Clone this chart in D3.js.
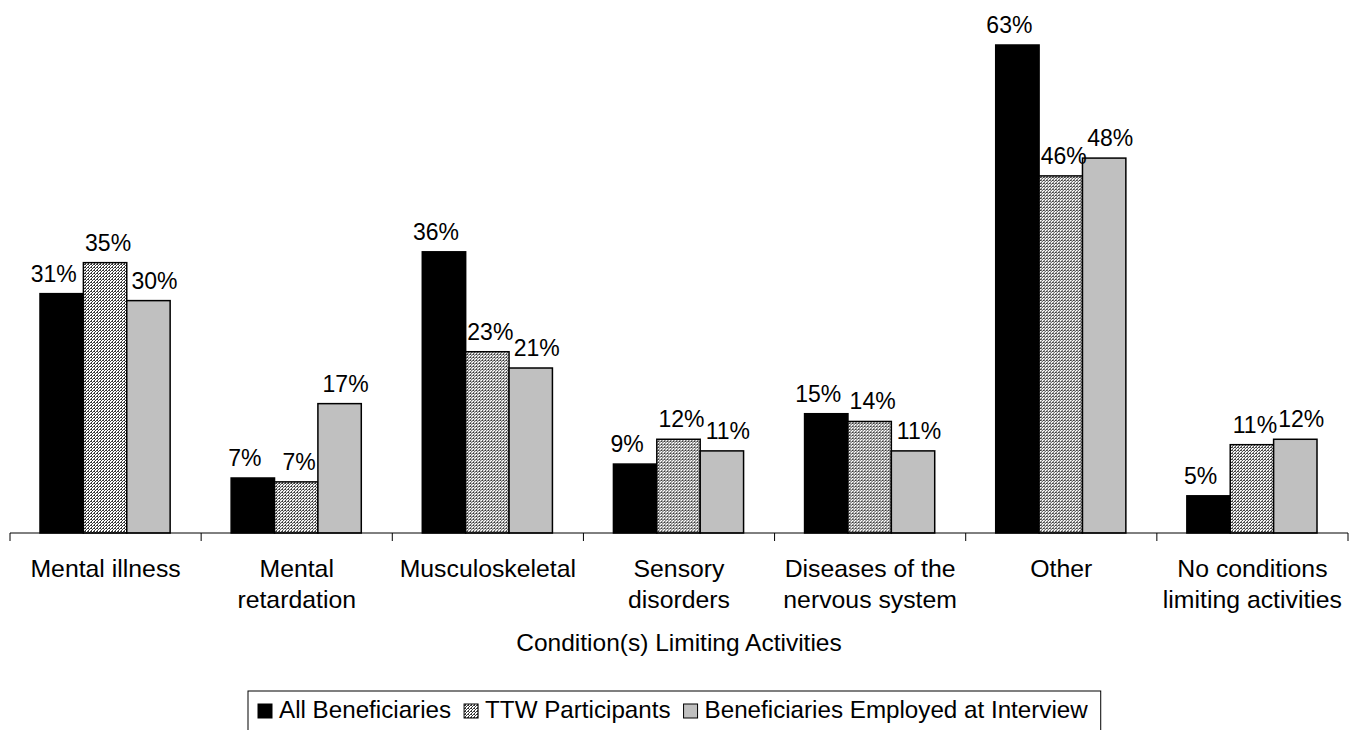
<!DOCTYPE html>
<html>
<head>
<meta charset="utf-8">
<script src="https://cdn.jsdelivr.net/npm/d3@7"></script>
<style>
  body { margin: 0; background: #fff; }
  text { font-family: "Liberation Sans", Arial, sans-serif; fill: #000; }
</style>
</head>
<body>
<div id="chart-area"></div>
<script>
// Data
const categories = [
    ["Mental illness"],
    ["Mental", "retardation"],
    ["Musculoskeletal"],
    ["Sensory", "disorders"],
    ["Diseases of the", "nervous system"],
    ["Other"],
    ["No conditions", "limiting activities"]
]
const seriesNames = ["All Beneficiaries", "TTW Participants", "Beneficiaries Employed at Interview"]
const allBeneficiaries = [30.9, 7.1, 36.3, 8.9, 15.4, 63.0, 4.8]
const ttwParticipants = [34.9, 6.6, 23.4, 12.1, 14.4, 46.1, 11.4]
const employedAtInterview = [30.0, 16.7, 21.3, 10.6, 10.6, 48.4, 12.1]

const W = 1358, H = 730
const baseY = 533

const svg = d3.select("#chart-area").append("svg")
    .attr("width", W)
    .attr("height", H)

const defs = svg.append("defs")
const pat = defs.append("pattern")
    .attr("id", "hatch")
    .attr("patternUnits", "userSpaceOnUse")
    .attr("width", 3)
    .attr("height", 3)
pat.append("rect").attr("width", 3).attr("height", 3).attr("fill", "#fff")
pat.append("path")
    .attr("d", "M-1,2 L2,-1 M0,3 L3,0 M2,4 L4,2")
    .attr("stroke", "#3a3a3a")
    .attr("stroke-width", 1)

const fills = ["#000000", "url(#hatch)", "#c0c0c0"]
// small sideways nudge of the value labels, like the original
const labelShift = [-8, 3, 6]

const catKeys = categories.map(c => c.join(" "))

const x0 = d3.scaleBand()
    .domain(catKeys)
    .range([10, 1348])

const x1 = d3.scaleBand()
    .domain(seriesNames)
    .range([30, x0.bandwidth() - 31])

const y = d3.scaleLinear()
    .domain([0, 63])
    .range([baseY, 45])

const rows = catKeys.map((k, i) => ({
    key: k,
    values: [allBeneficiaries[i], ttwParticipants[i], employedAtInterview[i]]
}))

// bars
const groups = svg.append("g").selectAll("g")
    .data(rows)
    .enter().append("g")
    .attr("transform", d => `translate(${x0(d.key)},0)`)

groups.selectAll("rect")
    .data(d => d.values.map((v, j) => ({s: seriesNames[j], v: v, j: j})))
    .enter().append("rect")
    .attr("x", d => x1(d.s))
    .attr("y", d => y(d.v))
    .attr("width", x1.bandwidth())
    .attr("height", d => baseY - y(d.v))
    .attr("fill", d => fills[d.j])
    .attr("stroke", "#000")
    .attr("stroke-width", 1.5)

groups.selectAll("text.val")
    .data(d => d.values.map((v, j) => ({s: seriesNames[j], v: v, j: j})))
    .enter().append("text")
    .attr("class", "val")
    .attr("x", d => x1(d.s) + x1.bandwidth() / 2 + labelShift[d.j])
    .attr("y", d => y(d.v) - 12)
    .attr("text-anchor", "middle")
    .attr("font-size", "23px")
    .text(d => Math.round(d.v) + "%")

// x axis
const axis = svg.append("g")
axis.append("line")
    .attr("x1", x0.range()[0]).attr("x2", x0.range()[1])
    .attr("y1", baseY).attr("y2", baseY)
    .attr("stroke", "#000").attr("stroke-width", 1)
const tickXs = catKeys.map(k => x0(k)).concat([x0.range()[1]])
axis.selectAll("line.tick")
    .data(tickXs)
    .enter().append("line")
    .attr("class", "tick")
    .attr("x1", d => d).attr("x2", d => d)
    .attr("y1", baseY).attr("y2", baseY + 8)
    .attr("stroke", "#000").attr("stroke-width", 1)

const catLabels = axis.selectAll("text.cat")
    .data(categories)
    .enter().append("text")
    .attr("class", "cat")
    .attr("x", (d, i) => x0(catKeys[i]) + x0.bandwidth() / 2)
    .attr("y", 577)
    .attr("text-anchor", "middle")
    .attr("font-size", "24.8px")
catLabels.selectAll("tspan")
    .data(d => d)
    .enter().append("tspan")
    .attr("x", function() { return this.parentNode.getAttribute("x") })
    .attr("dy", (d, i) => i === 0 ? 0 : 31)
    .text(d => d)

// X Label
svg.append("text")
    .attr("x", 679)
    .attr("y", 651)
    .attr("text-anchor", "middle")
    .attr("font-size", "24.5px")
    .text("Condition(s) Limiting Activities")

// legend
const legend = svg.append("g")
const legBox = legend.append("rect")
    .attr("y", 691)
    .attr("height", 40)
    .attr("fill", "#fff")
    .attr("stroke", "#000")
    .attr("stroke-width", 1)

let lx = 258
seriesNames.forEach((name, j) => {
    legend.append("rect")
        .attr("x", lx).attr("y", 704)
        .attr("width", 14).attr("height", 14)
        .attr("fill", fills[j])
        .attr("stroke", "#000")
        .attr("stroke-width", 1)
    const t = legend.append("text")
        .attr("x", lx + 21)
        .attr("y", 718)
        .attr("font-size", "24.2px")
        .text(name)
    lx += 21 + t.node().getComputedTextLength() + 13
})
legBox.attr("x", 248).attr("width", lx - 248)
</script>
</body>
</html>
